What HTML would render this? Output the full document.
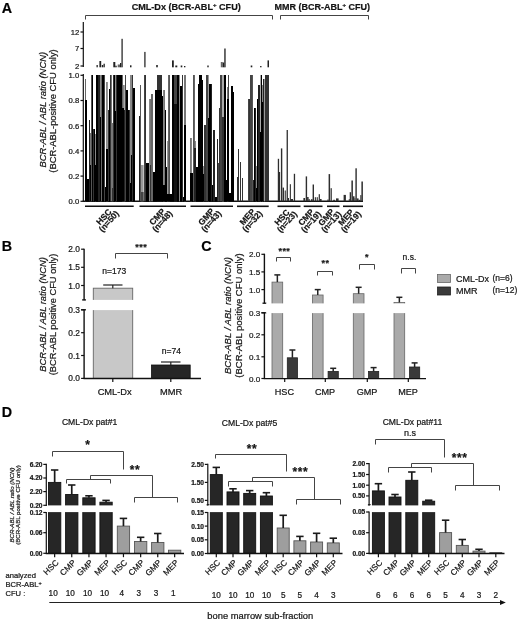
<!DOCTYPE html>
<html><head><meta charset="utf-8"><title>Figure</title>
<style>html,body{margin:0;padding:0;background:#fff}svg{display:block}text{font-family:"Liberation Sans", sans-serif;stroke:#222;stroke-width:0.22px}</style>
</head><body>
<svg width="520" height="621" viewBox="0 0 520 621">
<rect width="520" height="621" fill="#fff"/>
<text x="1.7" y="12.7" font-size="14.3" text-anchor="start" font-weight="bold" font-style="normal" fill="#000">A</text>
<text x="186.2" y="10.3" font-size="9.1" text-anchor="middle" font-weight="bold" font-style="normal" fill="#111">CML-Dx (BCR-ABL<tspan font-size="6" dy="-3">+</tspan><tspan dy="3"> CFU)</tspan></text>
<text x="322.3" y="10.3" font-size="9" text-anchor="middle" font-weight="bold" font-style="normal" fill="#111">MMR (BCR-ABL<tspan font-size="6" dy="-3">+</tspan><tspan dy="3"> CFU)</tspan></text>
<polyline points="85.5,19.5 85.5,15.5 272.5,15.5 272.5,19.5" fill="none" stroke="#444" stroke-width="1"/>
<polyline points="280.5,19.5 280.5,15.5 368.5,15.5 368.5,19.5" fill="none" stroke="#444" stroke-width="1"/>
<line x1="83.3" y1="22" x2="83.3" y2="67" stroke="#111" stroke-width="1.2"/>
<line x1="83.3" y1="74" x2="83.3" y2="201.5" stroke="#111" stroke-width="1.2"/>
<line x1="80.5" y1="32" x2="83.3" y2="32" stroke="#111" stroke-width="1.2"/>
<text x="79.2" y="34.8" font-size="7.7" text-anchor="end" font-weight="normal" font-style="normal" fill="#111">12</text>
<line x1="80.5" y1="48.5" x2="83.3" y2="48.5" stroke="#111" stroke-width="1.2"/>
<text x="79.2" y="51.3" font-size="7.7" text-anchor="end" font-weight="normal" font-style="normal" fill="#111">7</text>
<line x1="80.5" y1="66" x2="83.3" y2="66" stroke="#111" stroke-width="1.2"/>
<text x="79.2" y="68.8" font-size="7.7" text-anchor="end" font-weight="normal" font-style="normal" fill="#111">2</text>
<line x1="80.5" y1="75.3" x2="83.3" y2="75.3" stroke="#111" stroke-width="1.2"/>
<text x="79.2" y="78.1" font-size="7.7" text-anchor="end" font-weight="normal" font-style="normal" fill="#111">1.0</text>
<line x1="80.5" y1="100.5" x2="83.3" y2="100.5" stroke="#111" stroke-width="1.2"/>
<text x="79.2" y="103.3" font-size="7.7" text-anchor="end" font-weight="normal" font-style="normal" fill="#111">0.8</text>
<line x1="80.5" y1="125.69999999999999" x2="83.3" y2="125.69999999999999" stroke="#111" stroke-width="1.2"/>
<text x="79.2" y="128.5" font-size="7.7" text-anchor="end" font-weight="normal" font-style="normal" fill="#111">0.6</text>
<line x1="80.5" y1="150.89999999999998" x2="83.3" y2="150.89999999999998" stroke="#111" stroke-width="1.2"/>
<text x="79.2" y="153.7" font-size="7.7" text-anchor="end" font-weight="normal" font-style="normal" fill="#111">0.4</text>
<line x1="80.5" y1="176.1" x2="83.3" y2="176.1" stroke="#111" stroke-width="1.2"/>
<text x="79.2" y="178.9" font-size="7.7" text-anchor="end" font-weight="normal" font-style="normal" fill="#111">0.2</text>
<line x1="80.5" y1="201.3" x2="83.3" y2="201.3" stroke="#111" stroke-width="1.2"/>
<text x="79.2" y="204.10000000000002" font-size="7.7" text-anchor="end" font-weight="normal" font-style="normal" fill="#111">0.0</text>
<line x1="82.7" y1="201.3" x2="363" y2="201.3" stroke="#111" stroke-width="1.6"/>
<text x="45.9" y="109.7" font-size="9.4" text-anchor="middle" font-weight="normal" font-style="italic" fill="#111" transform="rotate(-90 45.9 109.7)">BCR-ABL / ABL ratio (NCN)</text>
<text x="56.1" y="111" font-size="9.4" text-anchor="middle" font-weight="normal" font-style="normal" fill="#111" transform="rotate(-90 56.1 111)">(BCR-ABL-positive CFU only)</text>
<line x1="85" y1="206.3" x2="133.7" y2="206.3" stroke="#111" stroke-width="1.6"/>
<line x1="139.5" y1="206.3" x2="186" y2="206.3" stroke="#111" stroke-width="1.6"/>
<line x1="190.5" y1="206.3" x2="233" y2="206.3" stroke="#111" stroke-width="1.6"/>
<line x1="237" y1="206.3" x2="268.7" y2="206.3" stroke="#111" stroke-width="1.6"/>
<line x1="277.5" y1="206.3" x2="300.5" y2="206.3" stroke="#111" stroke-width="1.6"/>
<line x1="303.7" y1="206.3" x2="322.5" y2="206.3" stroke="#111" stroke-width="1.6"/>
<line x1="327" y1="206.3" x2="339.5" y2="206.3" stroke="#111" stroke-width="1.6"/>
<line x1="343" y1="206.3" x2="363" y2="206.3" stroke="#111" stroke-width="1.6"/>
<rect x="85" y="79" width="1" height="122.3" fill="#666"/>
<rect x="85" y="100" width="1" height="101.3" fill="#000"/>
<rect x="86" y="100" width="1" height="101.3" fill="#000"/>
<rect x="87" y="179" width="1" height="22.3" fill="#000"/>
<rect x="88" y="179" width="1" height="22.3" fill="#000"/>
<rect x="89" y="120" width="1" height="81.3" fill="#222"/>
<rect x="90" y="133" width="1" height="68.3" fill="#777"/>
<rect x="90" y="165" width="1" height="36.3" fill="#000"/>
<rect x="91" y="75" width="1" height="126.3" fill="#555"/>
<rect x="92" y="75" width="1" height="126.3" fill="#000"/>
<rect x="93" y="129" width="1" height="72.3" fill="#333"/>
<rect x="94" y="129" width="1" height="72.3" fill="#000"/>
<rect x="95" y="134" width="1" height="67.3" fill="#888"/>
<rect x="95" y="165" width="1" height="36.3" fill="#000"/>
<rect x="96" y="75" width="1" height="126.3" fill="#000"/>
<rect x="97" y="75" width="1" height="126.3" fill="#000"/>
<rect x="98" y="75" width="1" height="126.3" fill="#222"/>
<rect x="99" y="75" width="1" height="126.3" fill="#222"/>
<rect x="100" y="75" width="1" height="126.3" fill="#888"/>
<rect x="100" y="117" width="1" height="84.3" fill="#000"/>
<rect x="101" y="75" width="1" height="126.3" fill="#666"/>
<rect x="102" y="75" width="1" height="126.3" fill="#000"/>
<rect x="103" y="75" width="1" height="126.3" fill="#000"/>
<rect x="104" y="75" width="1" height="126.3" fill="#444"/>
<rect x="105" y="187" width="1" height="14.3" fill="#000"/>
<rect x="106" y="82" width="1" height="119.3" fill="#888"/>
<rect x="106" y="149" width="1" height="52.3" fill="#000"/>
<rect x="107" y="82" width="1" height="119.3" fill="#999"/>
<rect x="107" y="149" width="1" height="52.3" fill="#000"/>
<rect x="108" y="110" width="1" height="91.3" fill="#333"/>
<rect x="109" y="89" width="1" height="112.3" fill="#000"/>
<rect x="110" y="75" width="1" height="126.3" fill="#333"/>
<rect x="111" y="75" width="1" height="126.3" fill="#777"/>
<rect x="112" y="123" width="1" height="78.3" fill="#777"/>
<rect x="112" y="188" width="1" height="13.3" fill="#333"/>
<rect x="113" y="75" width="1" height="126.3" fill="#333"/>
<rect x="114" y="75" width="1" height="126.3" fill="#000"/>
<rect x="115" y="75" width="1" height="126.3" fill="#888"/>
<rect x="115" y="111" width="1" height="90.3" fill="#000"/>
<rect x="116" y="75" width="1" height="126.3" fill="#333"/>
<rect x="117" y="75" width="1" height="126.3" fill="#000"/>
<rect x="118" y="75" width="1" height="126.3" fill="#000"/>
<rect x="119" y="75" width="1" height="126.3" fill="#000"/>
<rect x="120" y="75" width="1" height="126.3" fill="#000"/>
<rect x="121" y="75" width="1" height="126.3" fill="#000"/>
<rect x="122" y="75" width="1" height="126.3" fill="#666"/>
<rect x="122" y="108" width="1" height="93.3" fill="#000"/>
<rect x="123" y="85" width="1" height="116.3" fill="#888"/>
<rect x="123" y="108" width="1" height="93.3" fill="#000"/>
<rect x="124" y="85" width="1" height="116.3" fill="#aaa"/>
<rect x="124" y="110" width="1" height="91.3" fill="#222"/>
<rect x="125" y="75" width="1" height="126.3" fill="#444"/>
<rect x="126" y="90" width="1" height="111.3" fill="#000"/>
<rect x="127" y="90" width="1" height="111.3" fill="#000"/>
<rect x="128" y="110" width="1" height="91.3" fill="#000"/>
<rect x="129" y="110" width="1" height="91.3" fill="#333"/>
<rect x="130" y="75" width="1" height="126.3" fill="#888"/>
<rect x="130" y="183" width="1" height="18.3" fill="#000"/>
<rect x="131" y="75" width="1" height="126.3" fill="#888"/>
<rect x="131" y="155" width="1" height="46.3" fill="#000"/>
<rect x="132" y="75" width="1" height="126.3" fill="#333"/>
<rect x="133" y="88" width="1" height="113.3" fill="#000"/>
<rect x="134" y="88" width="1" height="113.3" fill="#000"/>
<rect x="139" y="116" width="1" height="85.3" fill="#222"/>
<rect x="140" y="85" width="1" height="116.3" fill="#555"/>
<rect x="141" y="165" width="2.6" height="36.3" fill="#999"/>
<rect x="141" y="192" width="2.6" height="9.3" fill="#444"/>
<rect x="144" y="75" width="1" height="126.3" fill="#444"/>
<rect x="145" y="75" width="1" height="126.3" fill="#333"/>
<rect x="146" y="163" width="1" height="38.3" fill="#000"/>
<rect x="147" y="163" width="1" height="38.3" fill="#000"/>
<rect x="148" y="163" width="1" height="38.3" fill="#000"/>
<rect x="149" y="99" width="1" height="102.3" fill="#888"/>
<rect x="150" y="99" width="1" height="102.3" fill="#777"/>
<rect x="150" y="165" width="1" height="36.3" fill="#333"/>
<rect x="151" y="94" width="1" height="107.3" fill="#666"/>
<rect x="152" y="94" width="1" height="107.3" fill="#666"/>
<rect x="153" y="172" width="1" height="29.3" fill="#000"/>
<rect x="154" y="172" width="1" height="29.3" fill="#000"/>
<rect x="155" y="90" width="1" height="111.3" fill="#000"/>
<rect x="156" y="90" width="1" height="111.3" fill="#000"/>
<rect x="157" y="75" width="1" height="126.3" fill="#333"/>
<rect x="157" y="90" width="1" height="111.3" fill="#000"/>
<rect x="158" y="75" width="1" height="126.3" fill="#333"/>
<rect x="158" y="90" width="1" height="111.3" fill="#000"/>
<rect x="159" y="75" width="1" height="126.3" fill="#333"/>
<rect x="159" y="90" width="1" height="111.3" fill="#000"/>
<rect x="160" y="75" width="1" height="126.3" fill="#333"/>
<rect x="160" y="90" width="1" height="111.3" fill="#000"/>
<rect x="161" y="75" width="1" height="126.3" fill="#333"/>
<rect x="161" y="90" width="1" height="111.3" fill="#000"/>
<rect x="162" y="96" width="1" height="105.3" fill="#000"/>
<rect x="163" y="90" width="1" height="111.3" fill="#888"/>
<rect x="163" y="185" width="1" height="16.3" fill="#000"/>
<rect x="164" y="90" width="1" height="111.3" fill="#777"/>
<rect x="164" y="185" width="1" height="16.3" fill="#000"/>
<rect x="165" y="110" width="1" height="91.3" fill="#000"/>
<rect x="166" y="167" width="1" height="34.3" fill="#000"/>
<rect x="167" y="141" width="1" height="60.3" fill="#999"/>
<rect x="167" y="194" width="1" height="7.3" fill="#000"/>
<rect x="168" y="75" width="1" height="126.3" fill="#666"/>
<rect x="168" y="194" width="1" height="7.3" fill="#000"/>
<rect x="169" y="75" width="1" height="126.3" fill="#555"/>
<rect x="169" y="194" width="1" height="7.3" fill="#000"/>
<rect x="170" y="194" width="1" height="7.3" fill="#000"/>
<rect x="171" y="194" width="1" height="7.3" fill="#000"/>
<rect x="172" y="75" width="1" height="126.3" fill="#000"/>
<rect x="173" y="75" width="1" height="126.3" fill="#000"/>
<rect x="174" y="75" width="1" height="126.3" fill="#444"/>
<rect x="174" y="104" width="1" height="97.3" fill="#111"/>
<rect x="175" y="75" width="1" height="126.3" fill="#444"/>
<rect x="175" y="104" width="1" height="97.3" fill="#111"/>
<rect x="176" y="75" width="1" height="126.3" fill="#444"/>
<rect x="176" y="104" width="1" height="97.3" fill="#111"/>
<rect x="177" y="75" width="1" height="126.3" fill="#000"/>
<rect x="178" y="75" width="1" height="126.3" fill="#000"/>
<rect x="179" y="75" width="1" height="126.3" fill="#888"/>
<rect x="180" y="86" width="1" height="115.3" fill="#000"/>
<rect x="181" y="86" width="1" height="115.3" fill="#000"/>
<rect x="182" y="75" width="1" height="126.3" fill="#333"/>
<rect x="183" y="197" width="1" height="4.3" fill="#000"/>
<rect x="184" y="75" width="1" height="126.3" fill="#777"/>
<rect x="184" y="125" width="1" height="76.3" fill="#000"/>
<rect x="185" y="75" width="1" height="126.3" fill="#777"/>
<rect x="185" y="125" width="1" height="76.3" fill="#000"/>
<rect x="190" y="138" width="1" height="63.3" fill="#777"/>
<rect x="190" y="173" width="1" height="28.3" fill="#000"/>
<rect x="191" y="138" width="1" height="63.3" fill="#888"/>
<rect x="191" y="173" width="1" height="28.3" fill="#000"/>
<rect x="192" y="173" width="1" height="28.3" fill="#000"/>
<rect x="193" y="75" width="1" height="126.3" fill="#555"/>
<rect x="194" y="75" width="1" height="126.3" fill="#666"/>
<rect x="194" y="148" width="1" height="53.3" fill="#222"/>
<rect x="195" y="141" width="1" height="60.3" fill="#888"/>
<rect x="195" y="148" width="1" height="53.3" fill="#222"/>
<rect x="196" y="167" width="1" height="34.3" fill="#000"/>
<rect x="197" y="167" width="1" height="34.3" fill="#000"/>
<rect x="198" y="84" width="1" height="117.3" fill="#000"/>
<rect x="199" y="75" width="1" height="126.3" fill="#000"/>
<rect x="200" y="75" width="1" height="126.3" fill="#000"/>
<rect x="201" y="75" width="1" height="126.3" fill="#000"/>
<rect x="202" y="80" width="1" height="121.3" fill="#000"/>
<rect x="203" y="166" width="1" height="35.3" fill="#888"/>
<rect x="203" y="174" width="1" height="27.3" fill="#000"/>
<rect x="204" y="125" width="1" height="76.3" fill="#333"/>
<rect x="205" y="125" width="1" height="76.3" fill="#333"/>
<rect x="206" y="75" width="1" height="126.3" fill="#444"/>
<rect x="207" y="75" width="1" height="126.3" fill="#444"/>
<rect x="208" y="75" width="1" height="126.3" fill="#999"/>
<rect x="208" y="118" width="1" height="83.3" fill="#000"/>
<rect x="209" y="84" width="1" height="117.3" fill="#000"/>
<rect x="210" y="84" width="1" height="117.3" fill="#000"/>
<rect x="211" y="84" width="1" height="117.3" fill="#222"/>
<rect x="212" y="185" width="1" height="16.3" fill="#000"/>
<rect x="213" y="130" width="1" height="71.3" fill="#222"/>
<rect x="214" y="130" width="1" height="71.3" fill="#222"/>
<rect x="215" y="197" width="1" height="4.3" fill="#000"/>
<rect x="216" y="197" width="1" height="4.3" fill="#000"/>
<rect x="217" y="139" width="1" height="62.3" fill="#222"/>
<rect x="218" y="163" width="1" height="38.3" fill="#444"/>
<rect x="219" y="108" width="1" height="93.3" fill="#333"/>
<rect x="220" y="75" width="1" height="126.3" fill="#444"/>
<rect x="221" y="75" width="1" height="126.3" fill="#444"/>
<rect x="222" y="75" width="1" height="126.3" fill="#aaa"/>
<rect x="222" y="117" width="1" height="84.3" fill="#333"/>
<rect x="223" y="75" width="1" height="126.3" fill="#aaa"/>
<rect x="223" y="117" width="1" height="84.3" fill="#333"/>
<rect x="224" y="75" width="1" height="126.3" fill="#000"/>
<rect x="225" y="75" width="1" height="126.3" fill="#000"/>
<rect x="226" y="180" width="1" height="21.3" fill="#000"/>
<rect x="227" y="87" width="1" height="114.3" fill="#777"/>
<rect x="227" y="99" width="1" height="102.3" fill="#000"/>
<rect x="228" y="75" width="1" height="126.3" fill="#444"/>
<rect x="228" y="99" width="1" height="102.3" fill="#000"/>
<rect x="229" y="193" width="1" height="8.3" fill="#000"/>
<rect x="230" y="193" width="1" height="8.3" fill="#000"/>
<rect x="231" y="86" width="1" height="115.3" fill="#000"/>
<rect x="232" y="86" width="1" height="115.3" fill="#000"/>
<rect x="233" y="92" width="1" height="109.3" fill="#000"/>
<rect x="237" y="177" width="1" height="24.3" fill="#333"/>
<rect x="238" y="149" width="1" height="52.3" fill="#333"/>
<rect x="240" y="162" width="1" height="39.3" fill="#333"/>
<rect x="242" y="178" width="1" height="23.3" fill="#333"/>
<rect x="248" y="99" width="1" height="102.3" fill="#444"/>
<rect x="249" y="99" width="1" height="102.3" fill="#333"/>
<rect x="250" y="75" width="1" height="126.3" fill="#444"/>
<rect x="251" y="75" width="1" height="126.3" fill="#444"/>
<rect x="252" y="75" width="1" height="126.3" fill="#555"/>
<rect x="253" y="180" width="1" height="21.3" fill="#222"/>
<rect x="254" y="108" width="1" height="93.3" fill="#000"/>
<rect x="255" y="108" width="1" height="93.3" fill="#222"/>
<rect x="256" y="166" width="1" height="35.3" fill="#888"/>
<rect x="256" y="188" width="1" height="13.3" fill="#000"/>
<rect x="257" y="99" width="1" height="102.3" fill="#000"/>
<rect x="258" y="85" width="1" height="116.3" fill="#222"/>
<rect x="259" y="85" width="1" height="116.3" fill="#222"/>
<rect x="260" y="75" width="1" height="126.3" fill="#aaa"/>
<rect x="260" y="132" width="1" height="69.3" fill="#000"/>
<rect x="261" y="75" width="1" height="126.3" fill="#000"/>
<rect x="262" y="85" width="1" height="116.3" fill="#888"/>
<rect x="262" y="102" width="1" height="99.3" fill="#000"/>
<rect x="263" y="79" width="1" height="122.3" fill="#222"/>
<rect x="264" y="79" width="1" height="122.3" fill="#999"/>
<rect x="265" y="75" width="1" height="126.3" fill="#333"/>
<rect x="266" y="75" width="1" height="126.3" fill="#333"/>
<rect x="267" y="75" width="1" height="126.3" fill="#333"/>
<rect x="268" y="75" width="1" height="126.3" fill="#333"/>
<rect x="96.5" y="65" width="1.3" height="2.3" fill="#222"/>
<rect x="99.4" y="61" width="1.8" height="6.3" fill="#222"/>
<rect x="101.8" y="65" width="1.4" height="2.3" fill="#222"/>
<rect x="103.5" y="63.7" width="1.3" height="3.6" fill="#222"/>
<rect x="113.3" y="62" width="2.0" height="5.3" fill="#222"/>
<rect x="115.3" y="65.7" width="1.4" height="1.6" fill="#222"/>
<rect x="117.7" y="64.5" width="2.3" height="2.8" fill="#666"/>
<rect x="120" y="63" width="1.4" height="4.3" fill="#222"/>
<rect x="121.4" y="38.8" width="1.4" height="28.5" fill="#3a3a3a"/>
<rect x="130" y="65.3" width="1.5" height="2.0" fill="#222"/>
<rect x="144.2" y="51.9" width="1.4" height="15.4" fill="#3a3a3a"/>
<rect x="156.2" y="65" width="1.6" height="2.3" fill="#222"/>
<rect x="172" y="60.4" width="1.8" height="6.9" fill="#222"/>
<rect x="175.3" y="65.5" width="2.0" height="1.8" fill="#222"/>
<rect x="180.7" y="65.5" width="1.6" height="1.8" fill="#222"/>
<rect x="184" y="66" width="1.4" height="1.3" fill="#222"/>
<rect x="207.3" y="65.5" width="1.4" height="1.8" fill="#222"/>
<rect x="220.8" y="62" width="1.9" height="5.3" fill="#666"/>
<rect x="222.7" y="62.5" width="1.6" height="4.8" fill="#222"/>
<rect x="224.2" y="48.5" width="1.5" height="18.8" fill="#3a3a3a"/>
<rect x="250.7" y="65.5" width="1.6" height="1.8" fill="#222"/>
<rect x="260.1" y="66" width="1.4" height="1.3" fill="#222"/>
<rect x="267.5" y="60.4" width="1.5" height="6.9" fill="#222"/>
<rect x="277.8" y="158.8" width="1.3" height="42.5" fill="#2e2e2e"/>
<rect x="278.6" y="172" width="1.5" height="29.3" fill="#2e2e2e"/>
<rect x="280.9" y="148.4" width="1.4" height="52.9" fill="#2e2e2e"/>
<rect x="282.6" y="187.6" width="1.4" height="13.7" fill="#2e2e2e"/>
<rect x="284.7" y="190.5" width="1.1" height="10.8" fill="#2e2e2e"/>
<rect x="286.6" y="130" width="1.3" height="71.3" fill="#2e2e2e"/>
<rect x="287.9" y="198" width="1.1" height="3.3" fill="#2e2e2e"/>
<rect x="289.8" y="184.2" width="1.1" height="17.1" fill="#2e2e2e"/>
<rect x="290.9" y="199" width="2.1" height="2.3" fill="#2e2e2e"/>
<rect x="293.8" y="173.8" width="1.3" height="27.5" fill="#2e2e2e"/>
<rect x="303.4" y="198" width="1.7" height="3.3" fill="#2e2e2e"/>
<rect x="305.7" y="176.4" width="1.4" height="24.9" fill="#2e2e2e"/>
<rect x="307.1" y="197" width="1.5" height="4.3" fill="#2e2e2e"/>
<rect x="308.6" y="199" width="1.1" height="2.3" fill="#2e2e2e"/>
<rect x="310.9" y="199.2" width="1.7" height="2.1" fill="#2e2e2e"/>
<rect x="312.6" y="184.5" width="1.4" height="16.8" fill="#2e2e2e"/>
<rect x="314.8" y="197.2" width="1.1" height="4.1" fill="#2e2e2e"/>
<rect x="316.7" y="197.2" width="1.1" height="4.1" fill="#2e2e2e"/>
<rect x="318.7" y="194.2" width="1.2" height="7.1" fill="#2e2e2e"/>
<rect x="319.9" y="199" width="1.7" height="2.3" fill="#2e2e2e"/>
<rect x="327.4" y="199.5" width="1.2" height="1.8" fill="#2e2e2e"/>
<rect x="328.6" y="174.1" width="1.5" height="27.2" fill="#2e2e2e"/>
<rect x="330.6" y="188.2" width="1.2" height="13.1" fill="#2e2e2e"/>
<rect x="333.2" y="199.8" width="1.7" height="1.5" fill="#2e2e2e"/>
<rect x="336" y="198.4" width="2.6" height="2.9" fill="#2e2e2e"/>
<rect x="343.6" y="194.9" width="2.3" height="6.4" fill="#2e2e2e"/>
<rect x="348.8" y="199" width="0.9" height="2.3" fill="#2e2e2e"/>
<rect x="349.7" y="192.2" width="1.3" height="9.1" fill="#2e2e2e"/>
<rect x="351.4" y="180.5" width="1.5" height="20.8" fill="#2e2e2e"/>
<rect x="352.9" y="196.3" width="1.6" height="5.0" fill="#2e2e2e"/>
<rect x="354.5" y="198.2" width="0.9" height="3.1" fill="#2e2e2e"/>
<rect x="355.4" y="168.3" width="1.4" height="33.0" fill="#2e2e2e"/>
<rect x="356.8" y="198.4" width="1.8" height="2.9" fill="#2e2e2e"/>
<rect x="358.6" y="199.8" width="1.7" height="1.5" fill="#2e2e2e"/>
<rect x="360.3" y="195.1" width="1.1" height="6.2" fill="#2e2e2e"/>
<rect x="361.4" y="181.5" width="1.5" height="19.8" fill="#2e2e2e"/>
<g transform="translate(107.14999999999999,219.8) rotate(-48)" font-size="8.5" font-weight="bold" text-anchor="middle" fill="#111"><text x="0" y="-1.5">HSC</text><text x="0" y="5.1">(n=50)</text></g>
<g transform="translate(160.55,219.8) rotate(-48)" font-size="8.5" font-weight="bold" text-anchor="middle" fill="#111"><text x="0" y="-1.5">CMP</text><text x="0" y="5.1">(n=48)</text></g>
<g transform="translate(209.55,219.8) rotate(-48)" font-size="8.5" font-weight="bold" text-anchor="middle" fill="#111"><text x="0" y="-1.5">GMP</text><text x="0" y="5.1">(n=43)</text></g>
<g transform="translate(250.65,219.8) rotate(-48)" font-size="8.5" font-weight="bold" text-anchor="middle" fill="#111"><text x="0" y="-1.5">MEP</text><text x="0" y="5.1">(n=32)</text></g>
<g transform="translate(285.3,220.3) rotate(-48)" font-size="8.5" font-weight="bold" text-anchor="middle" fill="#111"><text x="0" y="-1.5">HSC</text><text x="0" y="5.1">(n=23)</text></g>
<g transform="translate(309.40000000000003,220.3) rotate(-48)" font-size="8.5" font-weight="bold" text-anchor="middle" fill="#111"><text x="0" y="-1.5">CMP</text><text x="0" y="5.1">(n=19)</text></g>
<g transform="translate(329.55,220.3) rotate(-48)" font-size="8.5" font-weight="bold" text-anchor="middle" fill="#111"><text x="0" y="-1.5">GMP</text><text x="0" y="5.1">(n=13)</text></g>
<g transform="translate(349.3,220.3) rotate(-48)" font-size="8.5" font-weight="bold" text-anchor="middle" fill="#111"><text x="0" y="-1.5">MEP</text><text x="0" y="5.1">(n=19)</text></g>
<text x="1.7" y="251" font-size="14.3" text-anchor="start" font-weight="bold" font-style="normal" fill="#000">B</text>
<text x="45.5" y="314.5" font-size="9.3" text-anchor="middle" font-weight="normal" font-style="italic" fill="#111" transform="rotate(-90 45.5 314.5)">BCR-ABL / ABL ratio (NCN)</text>
<text x="55.5" y="314.5" font-size="9.3" text-anchor="middle" font-weight="normal" font-style="normal" fill="#111" transform="rotate(-90 55.5 314.5)">(BCR-ABL positive CFU only)</text>
<line x1="84.1" y1="248.7" x2="84.1" y2="300.3" stroke="#111" stroke-width="1.4"/>
<line x1="84.1" y1="309.3" x2="84.1" y2="379" stroke="#111" stroke-width="1.4"/>
<line x1="82.1" y1="299.9" x2="86.0" y2="299.9" stroke="#111" stroke-width="1.3"/>
<line x1="81.1" y1="309.8" x2="86.0" y2="309.8" stroke="#111" stroke-width="1.3"/>
<line x1="81.1" y1="249.2" x2="84.1" y2="249.2" stroke="#111" stroke-width="1.2"/>
<text x="79.89999999999999" y="252.2" font-size="8.4" text-anchor="end" font-weight="normal" font-style="normal" fill="#111">2.0</text>
<line x1="81.1" y1="267.3" x2="84.1" y2="267.3" stroke="#111" stroke-width="1.2"/>
<text x="79.89999999999999" y="270.3" font-size="8.4" text-anchor="end" font-weight="normal" font-style="normal" fill="#111">1.5</text>
<line x1="81.1" y1="285.5" x2="84.1" y2="285.5" stroke="#111" stroke-width="1.2"/>
<text x="79.89999999999999" y="288.5" font-size="8.4" text-anchor="end" font-weight="normal" font-style="normal" fill="#111">1.0</text>
<line x1="81.1" y1="309.8" x2="84.1" y2="309.8" stroke="#111" stroke-width="1.2"/>
<text x="79.89999999999999" y="312.8" font-size="8.4" text-anchor="end" font-weight="normal" font-style="normal" fill="#111">0.3</text>
<line x1="81.1" y1="332.7" x2="84.1" y2="332.7" stroke="#111" stroke-width="1.2"/>
<text x="79.89999999999999" y="335.7" font-size="8.4" text-anchor="end" font-weight="normal" font-style="normal" fill="#111">0.2</text>
<line x1="81.1" y1="355.5" x2="84.1" y2="355.5" stroke="#111" stroke-width="1.2"/>
<text x="79.89999999999999" y="358.5" font-size="8.4" text-anchor="end" font-weight="normal" font-style="normal" fill="#111">0.1</text>
<line x1="81.1" y1="378.4" x2="84.1" y2="378.4" stroke="#111" stroke-width="1.2"/>
<text x="79.89999999999999" y="381.4" font-size="8.4" text-anchor="end" font-weight="normal" font-style="normal" fill="#111">0.0</text>
<rect x="93.3" y="288.2" width="39.4" height="90.2" fill="#c8c8c8" stroke="#666" stroke-width="0.9"/>
<rect x="92" y="299.9" width="42" height="10.2" fill="#fff"/>
<line x1="112.8" y1="288.3" x2="112.8" y2="285" stroke="#222" stroke-width="1.2"/>
<line x1="103.2" y1="285" x2="122.5" y2="285" stroke="#222" stroke-width="1.2"/>
<rect x="151.5" y="365" width="38.7" height="13.4" fill="#262626" stroke="#111" stroke-width="0.8"/>
<line x1="170.8" y1="365" x2="170.8" y2="362" stroke="#222" stroke-width="1.2"/>
<line x1="161" y1="362" x2="180.5" y2="362" stroke="#222" stroke-width="1.2"/>
<line x1="83.5" y1="378.5" x2="201" y2="378.5" stroke="#111" stroke-width="1.4"/>
<line x1="112.8" y1="378.5" x2="112.8" y2="382" stroke="#111" stroke-width="1.2"/>
<line x1="170.8" y1="378.5" x2="170.8" y2="382" stroke="#111" stroke-width="1.2"/>
<polyline points="115.5,258.5 115.5,253.5 167.5,253.5 167.5,258.5" fill="none" stroke="#444" stroke-width="1"/>
<text x="135.35" y="249.88" font-size="9" font-weight="bold" letter-spacing="0.4" fill="#111">***</text>
<text x="114.3" y="274" font-size="8.5" text-anchor="middle" font-weight="normal" font-style="normal" fill="#111">n=173</text>
<text x="171.3" y="354" font-size="8.5" text-anchor="middle" font-weight="normal" font-style="normal" fill="#111">n=74</text>
<text x="114.7" y="395.2" font-size="9.3" text-anchor="middle" font-weight="normal" font-style="normal" fill="#111">CML-Dx</text>
<text x="171" y="395.2" font-size="9.3" text-anchor="middle" font-weight="normal" font-style="normal" fill="#111">MMR</text>
<text x="201.2" y="251" font-size="14.3" text-anchor="start" font-weight="bold" font-style="normal" fill="#000">C</text>
<text x="231.3" y="315.5" font-size="9.5" text-anchor="middle" font-weight="normal" font-style="italic" fill="#111" transform="rotate(-90 231.3 315.5)">BCR-ABL / ABL ratio (NCN)</text>
<text x="241.5" y="315.5" font-size="9.5" text-anchor="middle" font-weight="normal" font-style="normal" fill="#111" transform="rotate(-90 241.5 315.5)">(BCR-ABL positive CFU only)</text>
<line x1="264.4" y1="253.7" x2="264.4" y2="303.5" stroke="#111" stroke-width="1.4"/>
<line x1="264.4" y1="312.3" x2="264.4" y2="379" stroke="#111" stroke-width="1.4"/>
<line x1="262.5" y1="303.2" x2="266.29999999999995" y2="303.2" stroke="#111" stroke-width="1.3"/>
<line x1="261.4" y1="312.8" x2="266.29999999999995" y2="312.8" stroke="#111" stroke-width="1.3"/>
<line x1="261.4" y1="254.3" x2="264.4" y2="254.3" stroke="#111" stroke-width="1.2"/>
<text x="260.2" y="257.3" font-size="8.1" text-anchor="end" font-weight="normal" font-style="normal" fill="#111">2.0</text>
<line x1="261.4" y1="271.9" x2="264.4" y2="271.9" stroke="#111" stroke-width="1.2"/>
<text x="260.2" y="274.9" font-size="8.1" text-anchor="end" font-weight="normal" font-style="normal" fill="#111">1.5</text>
<line x1="261.4" y1="289.6" x2="264.4" y2="289.6" stroke="#111" stroke-width="1.2"/>
<text x="260.2" y="292.6" font-size="8.1" text-anchor="end" font-weight="normal" font-style="normal" fill="#111">1.0</text>
<line x1="261.4" y1="312.8" x2="264.4" y2="312.8" stroke="#111" stroke-width="1.2"/>
<text x="260.2" y="315.8" font-size="8.1" text-anchor="end" font-weight="normal" font-style="normal" fill="#111">0.3</text>
<line x1="261.4" y1="334.8" x2="264.4" y2="334.8" stroke="#111" stroke-width="1.2"/>
<text x="260.2" y="337.8" font-size="8.1" text-anchor="end" font-weight="normal" font-style="normal" fill="#111">0.2</text>
<line x1="261.4" y1="356.8" x2="264.4" y2="356.8" stroke="#111" stroke-width="1.2"/>
<text x="260.2" y="359.8" font-size="8.1" text-anchor="end" font-weight="normal" font-style="normal" fill="#111">0.1</text>
<line x1="261.4" y1="378.5" x2="264.4" y2="378.5" stroke="#111" stroke-width="1.2"/>
<text x="260.2" y="381.5" font-size="8.1" text-anchor="end" font-weight="normal" font-style="normal" fill="#111">0.0</text>
<rect x="272" y="282.1" width="10.7" height="96.29999999999995" fill="#aaaaaa" stroke="#666" stroke-width="0.8"/>
<line x1="277.35" y1="282.1" x2="277.35" y2="274.9" stroke="#222" stroke-width="1.5"/>
<line x1="274.35" y1="274.9" x2="280.35" y2="274.9" stroke="#222" stroke-width="1.5"/>
<rect x="287.3" y="357.8" width="10.2" height="20.599999999999966" fill="#3a3a3a" stroke="#222" stroke-width="0.8"/>
<line x1="292.40000000000003" y1="357.8" x2="292.40000000000003" y2="350" stroke="#222" stroke-width="1.5"/>
<line x1="289.40000000000003" y1="350" x2="295.40000000000003" y2="350" stroke="#222" stroke-width="1.5"/>
<rect x="312.4" y="295" width="10.7" height="83.39999999999998" fill="#aaaaaa" stroke="#666" stroke-width="0.8"/>
<line x1="317.75" y1="295" x2="317.75" y2="289.6" stroke="#222" stroke-width="1.5"/>
<line x1="314.75" y1="289.6" x2="320.75" y2="289.6" stroke="#222" stroke-width="1.5"/>
<rect x="328.1" y="371.4" width="10.2" height="7.0" fill="#3a3a3a" stroke="#222" stroke-width="0.8"/>
<line x1="333.20000000000005" y1="371.4" x2="333.20000000000005" y2="368.3" stroke="#222" stroke-width="1.5"/>
<line x1="330.20000000000005" y1="368.3" x2="336.20000000000005" y2="368.3" stroke="#222" stroke-width="1.5"/>
<rect x="353.3" y="293.7" width="10.7" height="84.69999999999999" fill="#aaaaaa" stroke="#666" stroke-width="0.8"/>
<line x1="358.65000000000003" y1="293.7" x2="358.65000000000003" y2="287.3" stroke="#222" stroke-width="1.5"/>
<line x1="355.65000000000003" y1="287.3" x2="361.65000000000003" y2="287.3" stroke="#222" stroke-width="1.5"/>
<rect x="368.5" y="371.4" width="10.2" height="7.0" fill="#3a3a3a" stroke="#222" stroke-width="0.8"/>
<line x1="373.6" y1="371.4" x2="373.6" y2="367.6" stroke="#222" stroke-width="1.5"/>
<line x1="370.6" y1="367.6" x2="376.6" y2="367.6" stroke="#222" stroke-width="1.5"/>
<rect x="394" y="302.4" width="10.7" height="76.0" fill="#aaaaaa" stroke="#666" stroke-width="0.8"/>
<line x1="399.35" y1="302.4" x2="399.35" y2="297.3" stroke="#222" stroke-width="1.5"/>
<line x1="396.35" y1="297.3" x2="402.35" y2="297.3" stroke="#222" stroke-width="1.5"/>
<rect x="409.5" y="367" width="10.2" height="11.399999999999977" fill="#3a3a3a" stroke="#222" stroke-width="0.8"/>
<line x1="414.6" y1="367" x2="414.6" y2="362.9" stroke="#222" stroke-width="1.5"/>
<line x1="411.6" y1="362.9" x2="417.6" y2="362.9" stroke="#222" stroke-width="1.5"/>
<rect x="266.5" y="303.4" width="165" height="9.7" fill="#fff"/>
<line x1="263.79999999999995" y1="378.6" x2="426" y2="378.6" stroke="#111" stroke-width="1.4"/>
<polyline points="276.5,261.5 276.5,257.5 290.5,257.5 290.5,261.5" fill="none" stroke="#444" stroke-width="1"/>
<text x="278.55" y="253.98" font-size="9" font-weight="bold" letter-spacing="0.4" fill="#111">***</text>
<polyline points="317.5,275.5 317.5,271.5 332.5,271.5 332.5,275.5" fill="none" stroke="#444" stroke-width="1"/>
<text x="321.6" y="266.38" font-size="9" font-weight="bold" letter-spacing="0.4" fill="#111">**</text>
<polyline points="359.5,269.5 359.5,264.5 374.5,264.5 374.5,269.5" fill="none" stroke="#444" stroke-width="1"/>
<text x="365.05" y="260.38" font-size="9" font-weight="bold" letter-spacing="0.4" fill="#111">*</text>
<polyline points="401.5,273.5 401.5,268.5 415.5,268.5 415.5,273.5" fill="none" stroke="#444" stroke-width="1"/>
<text x="409.4" y="259.5" font-size="8.5" text-anchor="middle" font-weight="normal" font-style="normal" fill="#111">n.s.</text>
<text x="284.4" y="395.3" font-size="9.1" text-anchor="middle" font-weight="normal" font-style="normal" fill="#111">HSC</text>
<line x1="284.7" y1="378.6" x2="284.7" y2="382" stroke="#111" stroke-width="1.2"/>
<text x="325" y="395.3" font-size="9.1" text-anchor="middle" font-weight="normal" font-style="normal" fill="#111">CMP</text>
<line x1="325.3" y1="378.6" x2="325.3" y2="382" stroke="#111" stroke-width="1.2"/>
<text x="367" y="395.3" font-size="9.1" text-anchor="middle" font-weight="normal" font-style="normal" fill="#111">GMP</text>
<line x1="367.3" y1="378.6" x2="367.3" y2="382" stroke="#111" stroke-width="1.2"/>
<text x="408" y="395.3" font-size="9.1" text-anchor="middle" font-weight="normal" font-style="normal" fill="#111">MEP</text>
<line x1="408.3" y1="378.6" x2="408.3" y2="382" stroke="#111" stroke-width="1.2"/>
<rect x="437.5" y="274.5" width="13" height="8" fill="#aaaaaa" stroke="#666" stroke-width="0.8"/>
<rect x="437.5" y="287" width="13" height="8" fill="#3a3a3a" stroke="#222" stroke-width="0.8"/>
<text x="456" y="281.6" font-size="9" text-anchor="start" font-weight="normal" font-style="normal" fill="#111">CML-Dx</text>
<text x="456" y="294.2" font-size="9" text-anchor="start" font-weight="normal" font-style="normal" fill="#111">MMR</text>
<text x="492.5" y="281" font-size="8.5" text-anchor="start" font-weight="normal" font-style="normal" fill="#111">(n=6)</text>
<text x="492.5" y="293.2" font-size="8.5" text-anchor="start" font-weight="normal" font-style="normal" fill="#111">(n=12)</text>
<text x="1.7" y="416.8" font-size="14.3" text-anchor="start" font-weight="bold" font-style="normal" fill="#000">D</text>
<text x="14.2" y="505" font-size="6.1" text-anchor="middle" font-weight="normal" font-style="italic" fill="#111" transform="rotate(-90 14.2 505)">BCR-ABL / ABL ratio (NCN)</text>
<text x="20.3" y="505" font-size="6.1" text-anchor="middle" font-weight="normal" font-style="normal" fill="#111" transform="rotate(-90 20.3 505)">(BCR-ABL positive CFU only)</text>
<line x1="46.3" y1="463.8" x2="46.3" y2="505.9" stroke="#111" stroke-width="1.2"/>
<line x1="46.3" y1="511.9" x2="46.3" y2="553.8" stroke="#111" stroke-width="1.2"/>
<line x1="43.3" y1="464.4" x2="46.3" y2="464.4" stroke="#111" stroke-width="1.2"/>
<text x="42.5" y="466.79999999999995" font-size="6.6" text-anchor="end" font-weight="bold" font-style="normal" fill="#111">6.20</text>
<line x1="43.3" y1="478" x2="46.3" y2="478" stroke="#111" stroke-width="1.2"/>
<text x="42.5" y="480.4" font-size="6.6" text-anchor="end" font-weight="bold" font-style="normal" fill="#111">4.20</text>
<line x1="43.3" y1="491.6" x2="46.3" y2="491.6" stroke="#111" stroke-width="1.2"/>
<text x="42.5" y="494.0" font-size="6.6" text-anchor="end" font-weight="bold" font-style="normal" fill="#111">2.20</text>
<line x1="43.3" y1="505.3" x2="46.3" y2="505.3" stroke="#111" stroke-width="1.2"/>
<text x="42.5" y="507.7" font-size="6.6" text-anchor="end" font-weight="bold" font-style="normal" fill="#111">0.20</text>
<line x1="43.3" y1="512.5" x2="46.3" y2="512.5" stroke="#111" stroke-width="1.2"/>
<text x="42.5" y="514.9" font-size="6.6" text-anchor="end" font-weight="bold" font-style="normal" fill="#111">0.12</text>
<line x1="43.3" y1="532.7" x2="46.3" y2="532.7" stroke="#111" stroke-width="1.2"/>
<text x="42.5" y="535.1" font-size="6.6" text-anchor="end" font-weight="bold" font-style="normal" fill="#111">0.06</text>
<line x1="43.3" y1="553.3" x2="46.3" y2="553.3" stroke="#111" stroke-width="1.2"/>
<text x="42.5" y="555.6999999999999" font-size="6.6" text-anchor="end" font-weight="bold" font-style="normal" fill="#111">0.00</text>
<rect x="48.5" y="482.4" width="12.3" height="70.89999999999998" fill="#262626" stroke="#111" stroke-width="0.9"/>
<line x1="54.65" y1="482.4" x2="54.65" y2="470" stroke="#1a1a1a" stroke-width="1.7"/>
<line x1="50.949999999999996" y1="470" x2="58.35" y2="470" stroke="#1a1a1a" stroke-width="1.6"/>
<line x1="54.65" y1="553.5" x2="54.65" y2="557.2" stroke="#111" stroke-width="1.2"/>
<rect x="65.6" y="494.5" width="12.3" height="58.799999999999955" fill="#262626" stroke="#111" stroke-width="0.9"/>
<line x1="71.75" y1="494.5" x2="71.75" y2="485" stroke="#1a1a1a" stroke-width="1.7"/>
<line x1="68.05" y1="485" x2="75.45" y2="485" stroke="#1a1a1a" stroke-width="1.6"/>
<line x1="71.75" y1="553.5" x2="71.75" y2="557.2" stroke="#111" stroke-width="1.2"/>
<rect x="82.8" y="497.8" width="12.3" height="55.49999999999994" fill="#262626" stroke="#111" stroke-width="0.9"/>
<line x1="88.95" y1="497.8" x2="88.95" y2="495.8" stroke="#1a1a1a" stroke-width="1.7"/>
<line x1="85.25" y1="495.8" x2="92.65" y2="495.8" stroke="#1a1a1a" stroke-width="1.6"/>
<line x1="88.95" y1="553.5" x2="88.95" y2="557.2" stroke="#111" stroke-width="1.2"/>
<rect x="99.9" y="502.2" width="12.3" height="51.099999999999966" fill="#262626" stroke="#111" stroke-width="0.9"/>
<line x1="106.05000000000001" y1="502.2" x2="106.05000000000001" y2="500.4" stroke="#1a1a1a" stroke-width="1.7"/>
<line x1="102.35000000000001" y1="500.4" x2="109.75000000000001" y2="500.4" stroke="#1a1a1a" stroke-width="1.6"/>
<line x1="106.05000000000001" y1="553.5" x2="106.05000000000001" y2="557.2" stroke="#111" stroke-width="1.2"/>
<rect x="117.3" y="526.1" width="12.3" height="27.199999999999932" fill="#9e9e9e" stroke="#555" stroke-width="0.9"/>
<line x1="123.45" y1="526.1" x2="123.45" y2="518.4" stroke="#1a1a1a" stroke-width="1.7"/>
<line x1="119.75" y1="518.4" x2="127.15" y2="518.4" stroke="#1a1a1a" stroke-width="1.6"/>
<line x1="123.45" y1="553.5" x2="123.45" y2="557.2" stroke="#111" stroke-width="1.2"/>
<rect x="134.5" y="541.5" width="12.3" height="11.799999999999955" fill="#9e9e9e" stroke="#555" stroke-width="0.9"/>
<line x1="140.65" y1="541.5" x2="140.65" y2="537.3" stroke="#1a1a1a" stroke-width="1.7"/>
<line x1="136.95000000000002" y1="537.3" x2="144.35" y2="537.3" stroke="#1a1a1a" stroke-width="1.6"/>
<line x1="140.65" y1="553.5" x2="140.65" y2="557.2" stroke="#111" stroke-width="1.2"/>
<rect x="151.6" y="542.5" width="12.3" height="10.799999999999955" fill="#9e9e9e" stroke="#555" stroke-width="0.9"/>
<line x1="157.75" y1="542.5" x2="157.75" y2="533.5" stroke="#1a1a1a" stroke-width="1.7"/>
<line x1="154.05" y1="533.5" x2="161.45" y2="533.5" stroke="#1a1a1a" stroke-width="1.6"/>
<line x1="157.75" y1="553.5" x2="157.75" y2="557.2" stroke="#111" stroke-width="1.2"/>
<rect x="168.5" y="550.2" width="12.3" height="3.099999999999909" fill="#9e9e9e" stroke="#555" stroke-width="0.9"/>
<line x1="174.65" y1="553.5" x2="174.65" y2="557.2" stroke="#111" stroke-width="1.2"/>
<rect x="47.099999999999994" y="505.4" width="137.7" height="6.7" fill="#fff"/>
<line x1="45.699999999999996" y1="553.5" x2="184" y2="553.5" stroke="#111" stroke-width="1.4"/>
<text x="89.6" y="425" font-size="8.6" text-anchor="middle" font-weight="normal" font-style="normal" fill="#111">CML-Dx pat#1</text>
<text x="85.17" y="449.4" font-size="12" font-weight="bold" letter-spacing="0.6" fill="#111">*</text>
<text x="129.73" y="473.7" font-size="12" font-weight="bold" letter-spacing="0.6" fill="#111">**</text>
<polyline points="52.5,456.5 52.5,451.5 123.5,451.5 123.5,469.5" fill="none" stroke="#444" stroke-width="1"/>
<polyline points="66.5,483.5 66.5,479.5 110.5,479.5 110.5,483.5" fill="none" stroke="#444" stroke-width="1"/>
<polyline points="90.5,479.5 90.5,475.5 152.5,475.5 152.5,497.5" fill="none" stroke="#444" stroke-width="1"/>
<polyline points="134.5,502.5 134.5,497.5 177.5,497.5 177.5,502.5" fill="none" stroke="#444" stroke-width="1"/>
<line x1="207.8" y1="463.8" x2="207.8" y2="505.4" stroke="#111" stroke-width="1.2"/>
<line x1="207.8" y1="511.9" x2="207.8" y2="553.8" stroke="#111" stroke-width="1.2"/>
<line x1="204.8" y1="464.4" x2="207.8" y2="464.4" stroke="#111" stroke-width="1.2"/>
<text x="204.0" y="466.79999999999995" font-size="6.6" text-anchor="end" font-weight="bold" font-style="normal" fill="#111">2.50</text>
<line x1="204.8" y1="482.4" x2="207.8" y2="482.4" stroke="#111" stroke-width="1.2"/>
<text x="204.0" y="484.79999999999995" font-size="6.6" text-anchor="end" font-weight="bold" font-style="normal" fill="#111">1.50</text>
<line x1="204.8" y1="500.4" x2="207.8" y2="500.4" stroke="#111" stroke-width="1.2"/>
<text x="204.0" y="502.79999999999995" font-size="6.6" text-anchor="end" font-weight="bold" font-style="normal" fill="#111">0.50</text>
<line x1="206.60000000000002" y1="504.8" x2="209.4" y2="504.8" stroke="#111" stroke-width="1.2"/>
<line x1="204.8" y1="512.5" x2="207.8" y2="512.5" stroke="#111" stroke-width="1.2"/>
<text x="204.0" y="514.9" font-size="6.6" text-anchor="end" font-weight="bold" font-style="normal" fill="#111">0.15</text>
<line x1="204.8" y1="526.1" x2="207.8" y2="526.1" stroke="#111" stroke-width="1.2"/>
<text x="204.0" y="528.5" font-size="6.6" text-anchor="end" font-weight="bold" font-style="normal" fill="#111">0.10</text>
<line x1="204.8" y1="539.8" x2="207.8" y2="539.8" stroke="#111" stroke-width="1.2"/>
<text x="204.0" y="542.1999999999999" font-size="6.6" text-anchor="end" font-weight="bold" font-style="normal" fill="#111">0.05</text>
<line x1="204.8" y1="553.5" x2="207.8" y2="553.5" stroke="#111" stroke-width="1.2"/>
<text x="204.0" y="555.9" font-size="6.6" text-anchor="end" font-weight="bold" font-style="normal" fill="#111">0.00</text>
<rect x="210.3" y="474.6" width="12" height="78.69999999999993" fill="#262626" stroke="#111" stroke-width="0.9"/>
<line x1="216.3" y1="474.6" x2="216.3" y2="467.4" stroke="#1a1a1a" stroke-width="1.7"/>
<line x1="212.60000000000002" y1="467.4" x2="220.0" y2="467.4" stroke="#1a1a1a" stroke-width="1.6"/>
<line x1="216.3" y1="553.5" x2="216.3" y2="557.2" stroke="#111" stroke-width="1.2"/>
<rect x="227" y="491.9" width="12" height="61.39999999999998" fill="#262626" stroke="#111" stroke-width="0.9"/>
<line x1="233.0" y1="491.9" x2="233.0" y2="488.8" stroke="#1a1a1a" stroke-width="1.7"/>
<line x1="229.3" y1="488.8" x2="236.7" y2="488.8" stroke="#1a1a1a" stroke-width="1.6"/>
<line x1="233.0" y1="553.5" x2="233.0" y2="557.2" stroke="#111" stroke-width="1.2"/>
<rect x="243.7" y="493.4" width="12" height="59.89999999999998" fill="#262626" stroke="#111" stroke-width="0.9"/>
<line x1="249.7" y1="493.4" x2="249.7" y2="490.6" stroke="#1a1a1a" stroke-width="1.7"/>
<line x1="246.0" y1="490.6" x2="253.39999999999998" y2="490.6" stroke="#1a1a1a" stroke-width="1.6"/>
<line x1="249.7" y1="553.5" x2="249.7" y2="557.2" stroke="#111" stroke-width="1.2"/>
<rect x="260.4" y="496" width="12" height="57.299999999999955" fill="#262626" stroke="#111" stroke-width="0.9"/>
<line x1="266.4" y1="496" x2="266.4" y2="492.7" stroke="#1a1a1a" stroke-width="1.7"/>
<line x1="262.7" y1="492.7" x2="270.09999999999997" y2="492.7" stroke="#1a1a1a" stroke-width="1.6"/>
<line x1="266.4" y1="553.5" x2="266.4" y2="557.2" stroke="#111" stroke-width="1.2"/>
<rect x="277.2" y="528" width="12" height="25.299999999999955" fill="#9e9e9e" stroke="#555" stroke-width="0.9"/>
<line x1="283.2" y1="528" x2="283.2" y2="515.3" stroke="#1a1a1a" stroke-width="1.7"/>
<line x1="279.5" y1="515.3" x2="286.9" y2="515.3" stroke="#1a1a1a" stroke-width="1.6"/>
<line x1="283.2" y1="553.5" x2="283.2" y2="557.2" stroke="#111" stroke-width="1.2"/>
<rect x="293.9" y="540.8" width="12" height="12.5" fill="#9e9e9e" stroke="#555" stroke-width="0.9"/>
<line x1="299.9" y1="540.8" x2="299.9" y2="536.4" stroke="#1a1a1a" stroke-width="1.7"/>
<line x1="296.2" y1="536.4" x2="303.59999999999997" y2="536.4" stroke="#1a1a1a" stroke-width="1.6"/>
<line x1="299.9" y1="553.5" x2="299.9" y2="557.2" stroke="#111" stroke-width="1.2"/>
<rect x="310.6" y="542" width="12" height="11.299999999999955" fill="#9e9e9e" stroke="#555" stroke-width="0.9"/>
<line x1="316.6" y1="542" x2="316.6" y2="533.3" stroke="#1a1a1a" stroke-width="1.7"/>
<line x1="312.90000000000003" y1="533.3" x2="320.3" y2="533.3" stroke="#1a1a1a" stroke-width="1.6"/>
<line x1="316.6" y1="553.5" x2="316.6" y2="557.2" stroke="#111" stroke-width="1.2"/>
<rect x="327.3" y="542.9" width="12" height="10.399999999999977" fill="#9e9e9e" stroke="#555" stroke-width="0.9"/>
<line x1="333.3" y1="542.9" x2="333.3" y2="538.2" stroke="#1a1a1a" stroke-width="1.7"/>
<line x1="329.6" y1="538.2" x2="337.0" y2="538.2" stroke="#1a1a1a" stroke-width="1.6"/>
<line x1="333.3" y1="553.5" x2="333.3" y2="557.2" stroke="#111" stroke-width="1.2"/>
<rect x="208.60000000000002" y="505.4" width="134.7" height="6.7" fill="#fff"/>
<line x1="207.20000000000002" y1="553.5" x2="342.5" y2="553.5" stroke="#111" stroke-width="1.4"/>
<text x="249.5" y="426.3" font-size="8.6" text-anchor="middle" font-weight="normal" font-style="normal" fill="#111">CML-Dx pat#5</text>
<text x="246.63" y="452.7" font-size="12" font-weight="bold" letter-spacing="0.6" fill="#111">**</text>
<text x="292.4" y="476.4" font-size="12" font-weight="bold" letter-spacing="0.6" fill="#111">***</text>
<polyline points="215.5,458.5 215.5,454.5 286.5,454.5 286.5,471.5" fill="none" stroke="#444" stroke-width="1"/>
<polyline points="228.5,486.5 228.5,481.5 272.5,481.5 272.5,486.5" fill="none" stroke="#444" stroke-width="1"/>
<polyline points="252.5,481.5 252.5,477.5 314.5,477.5 314.5,499.5" fill="none" stroke="#444" stroke-width="1"/>
<polyline points="296.5,504.5 296.5,499.5 340.5,499.5 340.5,504.5" fill="none" stroke="#444" stroke-width="1"/>
<line x1="369.1" y1="463" x2="369.1" y2="505.4" stroke="#111" stroke-width="1.2"/>
<line x1="369.1" y1="511.4" x2="369.1" y2="553.8" stroke="#111" stroke-width="1.2"/>
<line x1="366.1" y1="463.6" x2="369.1" y2="463.6" stroke="#111" stroke-width="1.2"/>
<text x="365.3" y="466.0" font-size="6.6" text-anchor="end" font-weight="bold" font-style="normal" fill="#111">2.00</text>
<line x1="366.1" y1="474.5" x2="369.1" y2="474.5" stroke="#111" stroke-width="1.2"/>
<text x="365.3" y="476.9" font-size="6.6" text-anchor="end" font-weight="bold" font-style="normal" fill="#111">1.50</text>
<line x1="366.1" y1="485.2" x2="369.1" y2="485.2" stroke="#111" stroke-width="1.2"/>
<text x="365.3" y="487.59999999999997" font-size="6.6" text-anchor="end" font-weight="bold" font-style="normal" fill="#111">1.00</text>
<line x1="366.1" y1="495.9" x2="369.1" y2="495.9" stroke="#111" stroke-width="1.2"/>
<text x="365.3" y="498.29999999999995" font-size="6.6" text-anchor="end" font-weight="bold" font-style="normal" fill="#111">0.50</text>
<line x1="367.90000000000003" y1="504.8" x2="370.70000000000005" y2="504.8" stroke="#111" stroke-width="1.2"/>
<line x1="366.1" y1="512" x2="369.1" y2="512" stroke="#111" stroke-width="1.2"/>
<text x="365.3" y="514.4" font-size="6.6" text-anchor="end" font-weight="bold" font-style="normal" fill="#111">0.05</text>
<line x1="366.1" y1="532.7" x2="369.1" y2="532.7" stroke="#111" stroke-width="1.2"/>
<text x="365.3" y="535.1" font-size="6.6" text-anchor="end" font-weight="bold" font-style="normal" fill="#111">0.03</text>
<line x1="366.1" y1="553.4" x2="369.1" y2="553.4" stroke="#111" stroke-width="1.2"/>
<text x="365.3" y="555.8" font-size="6.6" text-anchor="end" font-weight="bold" font-style="normal" fill="#111">0.00</text>
<rect x="372.4" y="490.9" width="12" height="62.39999999999998" fill="#262626" stroke="#111" stroke-width="0.9"/>
<line x1="378.4" y1="490.9" x2="378.4" y2="483.7" stroke="#1a1a1a" stroke-width="1.7"/>
<line x1="374.7" y1="483.7" x2="382.09999999999997" y2="483.7" stroke="#1a1a1a" stroke-width="1.6"/>
<line x1="378.4" y1="553.5" x2="378.4" y2="557.2" stroke="#111" stroke-width="1.2"/>
<rect x="389" y="497" width="12" height="56.299999999999955" fill="#262626" stroke="#111" stroke-width="0.9"/>
<line x1="395.0" y1="497" x2="395.0" y2="494.5" stroke="#1a1a1a" stroke-width="1.7"/>
<line x1="391.3" y1="494.5" x2="398.7" y2="494.5" stroke="#1a1a1a" stroke-width="1.6"/>
<line x1="395.0" y1="553.5" x2="395.0" y2="557.2" stroke="#111" stroke-width="1.2"/>
<rect x="405.8" y="480.3" width="12" height="72.99999999999994" fill="#262626" stroke="#111" stroke-width="0.9"/>
<line x1="411.8" y1="480.3" x2="411.8" y2="472" stroke="#1a1a1a" stroke-width="1.7"/>
<line x1="408.1" y1="472" x2="415.5" y2="472" stroke="#1a1a1a" stroke-width="1.6"/>
<line x1="411.8" y1="553.5" x2="411.8" y2="557.2" stroke="#111" stroke-width="1.2"/>
<rect x="422.7" y="501.2" width="12" height="52.099999999999966" fill="#262626" stroke="#111" stroke-width="0.9"/>
<line x1="428.7" y1="501.2" x2="428.7" y2="500.2" stroke="#1a1a1a" stroke-width="1.7"/>
<line x1="425.0" y1="500.2" x2="432.4" y2="500.2" stroke="#1a1a1a" stroke-width="1.6"/>
<line x1="428.7" y1="553.5" x2="428.7" y2="557.2" stroke="#111" stroke-width="1.2"/>
<rect x="439.6" y="532.6" width="12" height="20.699999999999932" fill="#9e9e9e" stroke="#555" stroke-width="0.9"/>
<line x1="445.6" y1="532.6" x2="445.6" y2="520.2" stroke="#1a1a1a" stroke-width="1.7"/>
<line x1="441.90000000000003" y1="520.2" x2="449.3" y2="520.2" stroke="#1a1a1a" stroke-width="1.6"/>
<line x1="445.6" y1="553.5" x2="445.6" y2="557.2" stroke="#111" stroke-width="1.2"/>
<rect x="456.3" y="545.4" width="12" height="7.899999999999977" fill="#9e9e9e" stroke="#555" stroke-width="0.9"/>
<line x1="462.3" y1="545.4" x2="462.3" y2="539.5" stroke="#1a1a1a" stroke-width="1.7"/>
<line x1="458.6" y1="539.5" x2="466.0" y2="539.5" stroke="#1a1a1a" stroke-width="1.6"/>
<line x1="462.3" y1="553.5" x2="462.3" y2="557.2" stroke="#111" stroke-width="1.2"/>
<rect x="473" y="551.1" width="12" height="2.199999999999932" fill="#9e9e9e" stroke="#555" stroke-width="0.9"/>
<line x1="479.0" y1="551.1" x2="479.0" y2="549.3" stroke="#1a1a1a" stroke-width="1.7"/>
<line x1="475.3" y1="549.3" x2="482.7" y2="549.3" stroke="#1a1a1a" stroke-width="1.6"/>
<line x1="479.0" y1="553.5" x2="479.0" y2="557.2" stroke="#111" stroke-width="1.2"/>
<rect x="489.8" y="552.6" width="12" height="0.6999999999999318" fill="#9e9e9e" stroke="#555" stroke-width="0.9"/>
<line x1="495.8" y1="553.5" x2="495.8" y2="557.2" stroke="#111" stroke-width="1.2"/>
<rect x="369.90000000000003" y="505.4" width="135.39999999999998" height="6.7" fill="#fff"/>
<line x1="368.5" y1="553.5" x2="504.5" y2="553.5" stroke="#111" stroke-width="1.4"/>
<text x="412.4" y="424.6" font-size="8.6" text-anchor="middle" font-weight="normal" font-style="normal" fill="#111">CML-Dx pat#11</text>
<text x="410" y="436" font-size="9" text-anchor="middle" font-weight="normal" font-style="normal" fill="#111">n.s</text>
<text x="451.7" y="461.9" font-size="12" font-weight="bold" letter-spacing="0.6" fill="#111">***</text>
<polyline points="375.5,444.5 375.5,439.5 444.5,439.5 444.5,457.5" fill="none" stroke="#444" stroke-width="1"/>
<polyline points="388.5,472.5 388.5,467.5 431.5,467.5 431.5,472.5" fill="none" stroke="#444" stroke-width="1"/>
<polyline points="411.5,467.5 411.5,463.5 473.5,463.5 473.5,485.5" fill="none" stroke="#444" stroke-width="1"/>
<polyline points="455.5,490.5 455.5,485.5 499.5,485.5 499.5,490.5" fill="none" stroke="#444" stroke-width="1"/>
<text x="59.15" y="563.2" font-size="8.3" text-anchor="end" font-weight="normal" font-style="normal" fill="#111" transform="rotate(-45 59.15 563.2)">HSC</text>
<text x="76.30000000000001" y="563.2" font-size="8.3" text-anchor="end" font-weight="normal" font-style="normal" fill="#111" transform="rotate(-45 76.30000000000001 563.2)">CMP</text>
<text x="93.45" y="563.2" font-size="8.3" text-anchor="end" font-weight="normal" font-style="normal" fill="#111" transform="rotate(-45 93.45 563.2)">GMP</text>
<text x="110.6" y="563.2" font-size="8.3" text-anchor="end" font-weight="normal" font-style="normal" fill="#111" transform="rotate(-45 110.6 563.2)">MEP</text>
<text x="127.75" y="563.2" font-size="8.3" text-anchor="end" font-weight="normal" font-style="normal" fill="#111" transform="rotate(-45 127.75 563.2)">HSC</text>
<text x="144.9" y="563.2" font-size="8.3" text-anchor="end" font-weight="normal" font-style="normal" fill="#111" transform="rotate(-45 144.9 563.2)">CMP</text>
<text x="162.04999999999998" y="563.2" font-size="8.3" text-anchor="end" font-weight="normal" font-style="normal" fill="#111" transform="rotate(-45 162.04999999999998 563.2)">GMP</text>
<text x="179.2" y="563.2" font-size="8.3" text-anchor="end" font-weight="normal" font-style="normal" fill="#111" transform="rotate(-45 179.2 563.2)">MEP</text>
<text x="220.8" y="563.2" font-size="8.3" text-anchor="end" font-weight="normal" font-style="normal" fill="#111" transform="rotate(-45 220.8 563.2)">HSC</text>
<text x="237.52" y="563.2" font-size="8.3" text-anchor="end" font-weight="normal" font-style="normal" fill="#111" transform="rotate(-45 237.52 563.2)">CMP</text>
<text x="254.24" y="563.2" font-size="8.3" text-anchor="end" font-weight="normal" font-style="normal" fill="#111" transform="rotate(-45 254.24 563.2)">GMP</text>
<text x="270.96000000000004" y="563.2" font-size="8.3" text-anchor="end" font-weight="normal" font-style="normal" fill="#111" transform="rotate(-45 270.96000000000004 563.2)">MEP</text>
<text x="287.68" y="563.2" font-size="8.3" text-anchor="end" font-weight="normal" font-style="normal" fill="#111" transform="rotate(-45 287.68 563.2)">HSC</text>
<text x="304.4" y="563.2" font-size="8.3" text-anchor="end" font-weight="normal" font-style="normal" fill="#111" transform="rotate(-45 304.4 563.2)">CMP</text>
<text x="321.12" y="563.2" font-size="8.3" text-anchor="end" font-weight="normal" font-style="normal" fill="#111" transform="rotate(-45 321.12 563.2)">GMP</text>
<text x="337.84000000000003" y="563.2" font-size="8.3" text-anchor="end" font-weight="normal" font-style="normal" fill="#111" transform="rotate(-45 337.84000000000003 563.2)">MEP</text>
<text x="382.9" y="563.2" font-size="8.3" text-anchor="end" font-weight="normal" font-style="normal" fill="#111" transform="rotate(-45 382.9 563.2)">HSC</text>
<text x="399.66999999999996" y="563.2" font-size="8.3" text-anchor="end" font-weight="normal" font-style="normal" fill="#111" transform="rotate(-45 399.66999999999996 563.2)">CMP</text>
<text x="416.44" y="563.2" font-size="8.3" text-anchor="end" font-weight="normal" font-style="normal" fill="#111" transform="rotate(-45 416.44 563.2)">GMP</text>
<text x="433.21" y="563.2" font-size="8.3" text-anchor="end" font-weight="normal" font-style="normal" fill="#111" transform="rotate(-45 433.21 563.2)">MEP</text>
<text x="449.97999999999996" y="563.2" font-size="8.3" text-anchor="end" font-weight="normal" font-style="normal" fill="#111" transform="rotate(-45 449.97999999999996 563.2)">HSC</text>
<text x="466.75" y="563.2" font-size="8.3" text-anchor="end" font-weight="normal" font-style="normal" fill="#111" transform="rotate(-45 466.75 563.2)">CMP</text>
<text x="483.52" y="563.2" font-size="8.3" text-anchor="end" font-weight="normal" font-style="normal" fill="#111" transform="rotate(-45 483.52 563.2)">GMP</text>
<text x="500.28999999999996" y="563.2" font-size="8.3" text-anchor="end" font-weight="normal" font-style="normal" fill="#111" transform="rotate(-45 500.28999999999996 563.2)">MEP</text>
<text x="5.5" y="578" font-size="7.6" text-anchor="start" font-weight="normal" font-style="normal" fill="#111">analyzed</text>
<text x="5.5" y="587" font-size="7.6" text-anchor="start" font-weight="normal" font-style="normal" fill="#111">BCR-ABL<tspan font-size="5.5" dy="-2.5">+</tspan></text>
<text x="5.5" y="596" font-size="7.6" text-anchor="start" font-weight="normal" font-style="normal" fill="#111">CFU :</text>
<text x="53.15" y="596" font-size="8.2" text-anchor="middle" font-weight="normal" font-style="normal" fill="#111">10</text>
<text x="70.3" y="596" font-size="8.2" text-anchor="middle" font-weight="normal" font-style="normal" fill="#111">10</text>
<text x="87.45" y="596" font-size="8.2" text-anchor="middle" font-weight="normal" font-style="normal" fill="#111">10</text>
<text x="104.6" y="596" font-size="8.2" text-anchor="middle" font-weight="normal" font-style="normal" fill="#111">10</text>
<text x="121.75" y="596" font-size="8.2" text-anchor="middle" font-weight="normal" font-style="normal" fill="#111">4</text>
<text x="138.9" y="596" font-size="8.2" text-anchor="middle" font-weight="normal" font-style="normal" fill="#111">3</text>
<text x="156.05" y="596" font-size="8.2" text-anchor="middle" font-weight="normal" font-style="normal" fill="#111">3</text>
<text x="173.2" y="596" font-size="8.2" text-anchor="middle" font-weight="normal" font-style="normal" fill="#111">1</text>
<text x="216.3" y="597.5" font-size="8.2" text-anchor="middle" font-weight="normal" font-style="normal" fill="#111">10</text>
<text x="233.02" y="597.5" font-size="8.2" text-anchor="middle" font-weight="normal" font-style="normal" fill="#111">10</text>
<text x="249.74" y="597.5" font-size="8.2" text-anchor="middle" font-weight="normal" font-style="normal" fill="#111">10</text>
<text x="266.46" y="597.5" font-size="8.2" text-anchor="middle" font-weight="normal" font-style="normal" fill="#111">10</text>
<text x="283.18" y="597.5" font-size="8.2" text-anchor="middle" font-weight="normal" font-style="normal" fill="#111">5</text>
<text x="299.9" y="597.5" font-size="8.2" text-anchor="middle" font-weight="normal" font-style="normal" fill="#111">5</text>
<text x="316.62" y="597.5" font-size="8.2" text-anchor="middle" font-weight="normal" font-style="normal" fill="#111">4</text>
<text x="333.34" y="597.5" font-size="8.2" text-anchor="middle" font-weight="normal" font-style="normal" fill="#111">3</text>
<text x="378.4" y="597.5" font-size="8.2" text-anchor="middle" font-weight="normal" font-style="normal" fill="#111">6</text>
<text x="395.17" y="597.5" font-size="8.2" text-anchor="middle" font-weight="normal" font-style="normal" fill="#111">6</text>
<text x="411.94" y="597.5" font-size="8.2" text-anchor="middle" font-weight="normal" font-style="normal" fill="#111">6</text>
<text x="428.71" y="597.5" font-size="8.2" text-anchor="middle" font-weight="normal" font-style="normal" fill="#111">6</text>
<text x="445.48" y="597.5" font-size="8.2" text-anchor="middle" font-weight="normal" font-style="normal" fill="#111">5</text>
<text x="462.25" y="597.5" font-size="8.2" text-anchor="middle" font-weight="normal" font-style="normal" fill="#111">4</text>
<text x="479.02" y="597.5" font-size="8.2" text-anchor="middle" font-weight="normal" font-style="normal" fill="#111">3</text>
<text x="495.79" y="597.5" font-size="8.2" text-anchor="middle" font-weight="normal" font-style="normal" fill="#111">2</text>
<line x1="49.3" y1="602.5" x2="501" y2="602.5" stroke="#222" stroke-width="1"/>
<polygon points="500,600 505.8,602.5 500,605" fill="#111"/>
<text x="260.3" y="618.6" font-size="9.35" text-anchor="middle" font-weight="normal" font-style="normal" fill="#111">bone marrow sub-fraction</text>
</svg>
</body></html>
